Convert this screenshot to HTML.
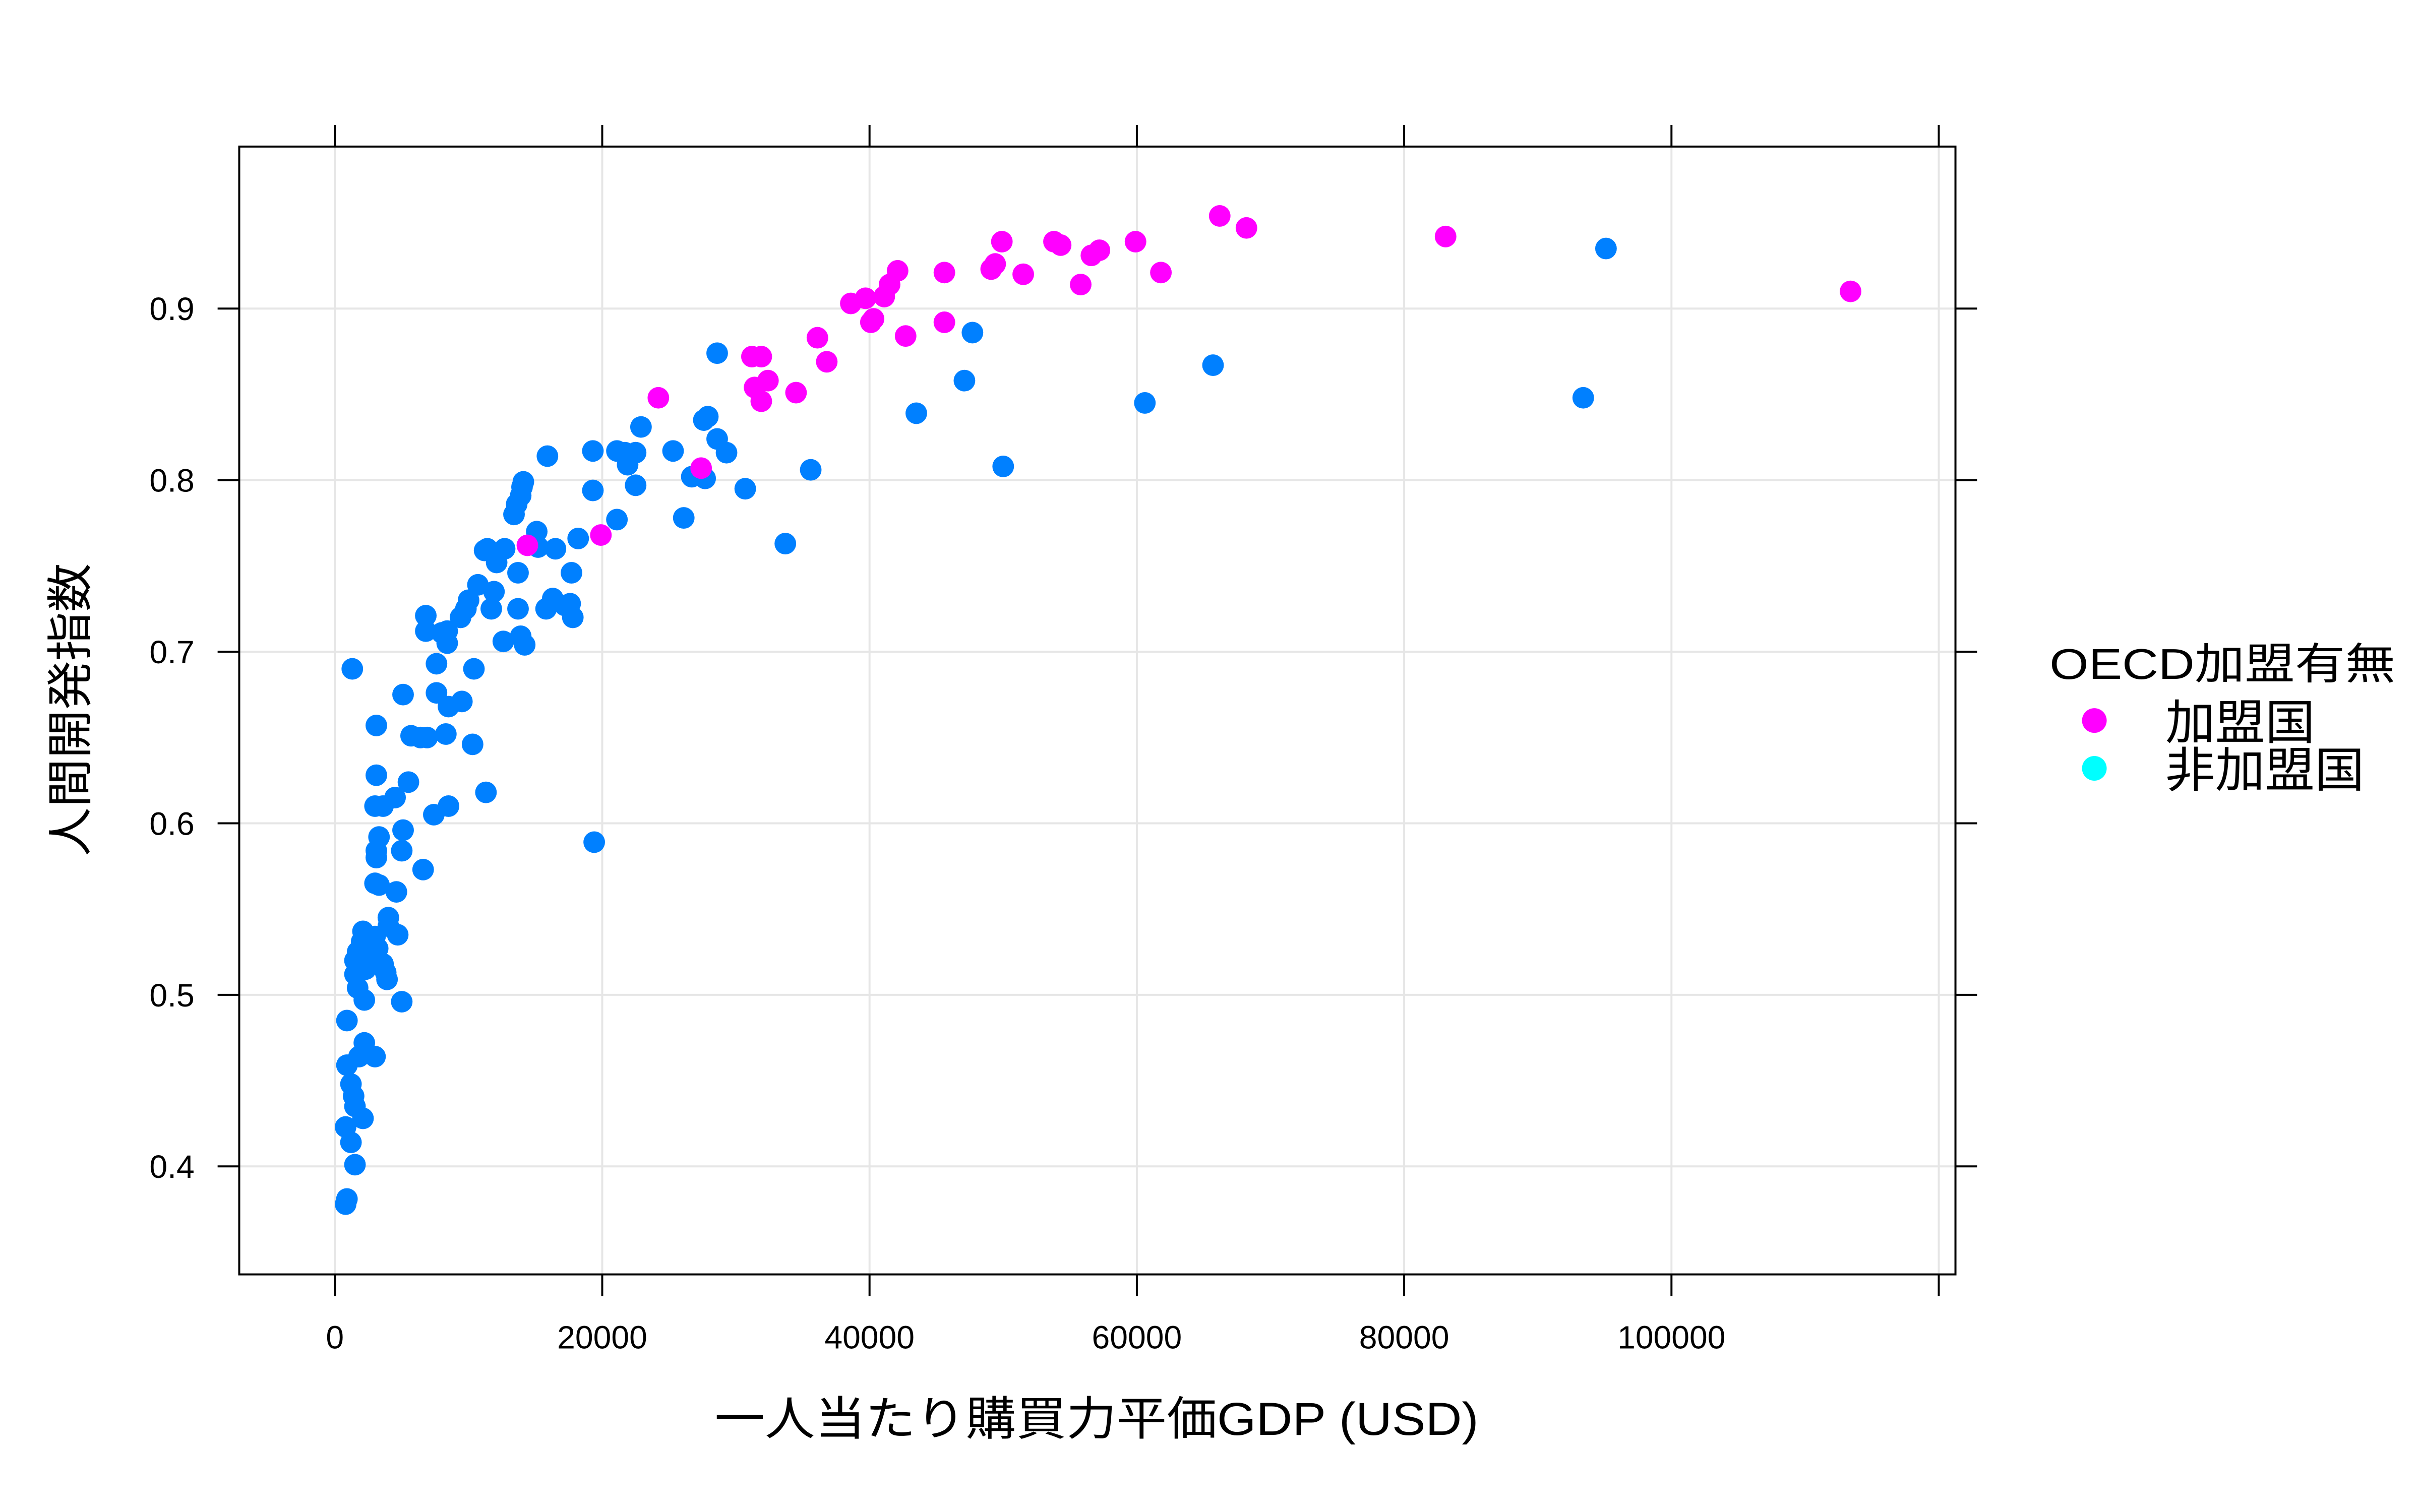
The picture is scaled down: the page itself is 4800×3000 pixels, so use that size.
<!DOCTYPE html>
<html><head><meta charset="utf-8"><style>
html,body{margin:0;padding:0;background:#fff;}
svg{display:block;font-family:"Liberation Sans","Noto Sans CJK JP",sans-serif;}
</style></head><body>
<svg id="chart" width="4800" height="3000" viewBox="0 0 1568 980" xmlns="http://www.w3.org/2000/svg">
<rect x="0" y="0" width="1568" height="980" fill="#fff"/>
<g id="grid"></g>
<g id="pts"></g>
<rect x="155" y="95" width="1112" height="731" fill="none" stroke="#000" stroke-width="1.3"/>
<g id="axes"></g>
<text x="463" y="930" font-size="30" textLength="495" lengthAdjust="spacingAndGlyphs">一人当たり購買力平価GDP (USD)</text>
<text transform="translate(56,555) rotate(-90)" font-size="30" textLength="190" lengthAdjust="spacingAndGlyphs">人間開発指数</text>
<g>
<text x="1328" y="440" font-size="28" textLength="224" lengthAdjust="spacingAndGlyphs">OECD加盟有無</text>
<circle cx="1357" cy="467" r="8" fill="#ff00ff"/>
<text x="1403" y="479" font-size="31" textLength="97" lengthAdjust="spacingAndGlyphs">加盟国</text>
<circle cx="1357" cy="498" r="8" fill="#00ffff"/>
<text x="1403" y="510" font-size="31" textLength="129" lengthAdjust="spacingAndGlyphs">非加盟国</text>
</g>
</svg>
<script>
const xTicks=[0,20000,40000,60000,80000,100000,120000];
const xTickLabels=["0","20000","40000","60000","80000","100000",""];
const yTicks=[0.4,0.5,0.6,0.7,0.8,0.9];
const yTickLabels=["0.4","0.5","0.6","0.7","0.8","0.9"];
const memberX=[66200,68200,83100,113400,53800,54300,59900,49900,49100,49400,57200,56600,55800,51500,61800,45600,45600,42100,41500,41100,39700,40300,40100,38600,36100,36800,42700,34500,32400,31900,31200,31400,31900,24200,27400,19900,14400];
const memberY=[0.954,0.947,0.942,0.910,0.939,0.937,0.939,0.939,0.923,0.926,0.934,0.931,0.914,0.920,0.921,0.921,0.892,0.922,0.914,0.907,0.906,0.894,0.892,0.903,0.883,0.869,0.884,0.851,0.858,0.872,0.872,0.854,0.846,0.848,0.807,0.768,0.762];
const nonMemberX=[95100,93400,65700,60600,50000,47700,47100,43500,35600,33700,30700,28600,29300,28600,27900,27600,27700,26700,26100,25300,22900,22500,22500,21900,21700,21100,21100,19300,19300,19400,18200,17800,17600,17200,17700,16300,15900,16500,15800,15100,15200,14100,14000,13900,13600,13400,13700,14200,13900,13700,12700,12600,12100,11700,11900,11400,11200,10700,10000,9800,10400,10300,11300,9400,8400,8400,8000,6800,6800,7600,7600,8500,8500,9500,8300,7400,6900,6600,6400,5700,5100,5500,4500,4700,5100,5000,5000,4600,4000,4000,3600,3100,3100,1300,3300,3100,3300,3000,3100,3000,3000,2700,3600,3900,2400,3000,2100,2000,1700,1500,1500,1700,2200,900,900,1200,1400,1500,2100,2200,800,1200,1500,900,800,1800,2200,2700,3200,3800,2300];
const nonMemberY=[0.935,0.848,0.867,0.845,0.808,0.886,0.858,0.839,0.806,0.763,0.795,0.874,0.816,0.824,0.837,0.835,0.801,0.802,0.778,0.817,0.831,0.816,0.797,0.809,0.816,0.817,0.777,0.817,0.794,0.589,0.766,0.720,0.728,0.727,0.746,0.731,0.814,0.760,0.725,0.770,0.761,0.799,0.796,0.791,0.786,0.780,0.746,0.704,0.709,0.725,0.760,0.706,0.752,0.725,0.735,0.760,0.759,0.739,0.730,0.725,0.690,0.646,0.618,0.720,0.705,0.712,0.711,0.721,0.712,0.693,0.676,0.668,0.610,0.671,0.652,0.605,0.650,0.573,0.650,0.651,0.675,0.624,0.615,0.535,0.596,0.584,0.496,0.560,0.545,0.540,0.610,0.628,0.657,0.690,0.592,0.584,0.564,0.565,0.580,0.610,0.534,0.528,0.518,0.509,0.521,0.464,0.537,0.531,0.525,0.520,0.512,0.504,0.497,0.485,0.459,0.448,0.441,0.435,0.428,0.467,0.423,0.414,0.401,0.381,0.378,0.464,0.472,0.532,0.527,0.513,0.515];

const NS="http://www.w3.org/2000/svg";
const X=v=>217+(v/100000)*866;
const Y=v=>200+(0.9-v)/0.1*111.2;
function mk(tag,attrs,parent){const e=document.createElementNS(NS,tag);for(const k in attrs)e.setAttribute(k,attrs[k]);parent.appendChild(e);return e;}
const grid=document.getElementById('grid'),axes=document.getElementById('axes'),pts=document.getElementById('pts');
xTicks.forEach((t,i)=>{
  const x=X(t);
  if(x<1267){const g=mk('line',{x1:x,x2:x,y1:95,y2:826,stroke:'#e6e6e6','stroke-width':1.3},grid);
  
  }
  const a=mk('line',{x1:x,x2:x,y1:826,y2:840,stroke:'#000','stroke-width':1.3},axes);
  
  
  const b=mk('line',{x1:x,x2:x,y1:81,y2:95,stroke:'#000','stroke-width':1.3},axes);
  
  
  if(xTickLabels[i]){const tx=mk('text',{x:x,y:874,'font-size':21,'text-anchor':'middle'},axes);tx.textContent=xTickLabels[i];
  
  }
});
yTicks.forEach((t,i)=>{
  const y=Y(t);
  const g=mk('line',{x1:155,x2:1267,y1:y,y2:y,stroke:'#e6e6e6','stroke-width':1.3},grid);
  
  
  const a=mk('line',{x1:141,x2:155,y1:y,y2:y,stroke:'#000','stroke-width':1.3},axes);
  
  
  const b=mk('line',{x1:1267,x2:1281,y1:y,y2:y,stroke:'#000','stroke-width':1.3},axes);
  
  
  const tx=mk('text',{x:126,y:y+7.5,'font-size':21,'text-anchor':'end'},axes);tx.textContent=yTickLabels[i];
  
  
});
nonMemberX.forEach((v,i)=>{
  const c=mk('circle',{cx:X(v),cy:Y(nonMemberY[i]),r:7,fill:'#0080ff'},pts);
  
  
});
memberX.forEach((v,i)=>{
  const c=mk('circle',{cx:X(v),cy:Y(memberY[i]),r:7,fill:'#ff00ff'},pts);
  
  
});
</script>
</body></html>
